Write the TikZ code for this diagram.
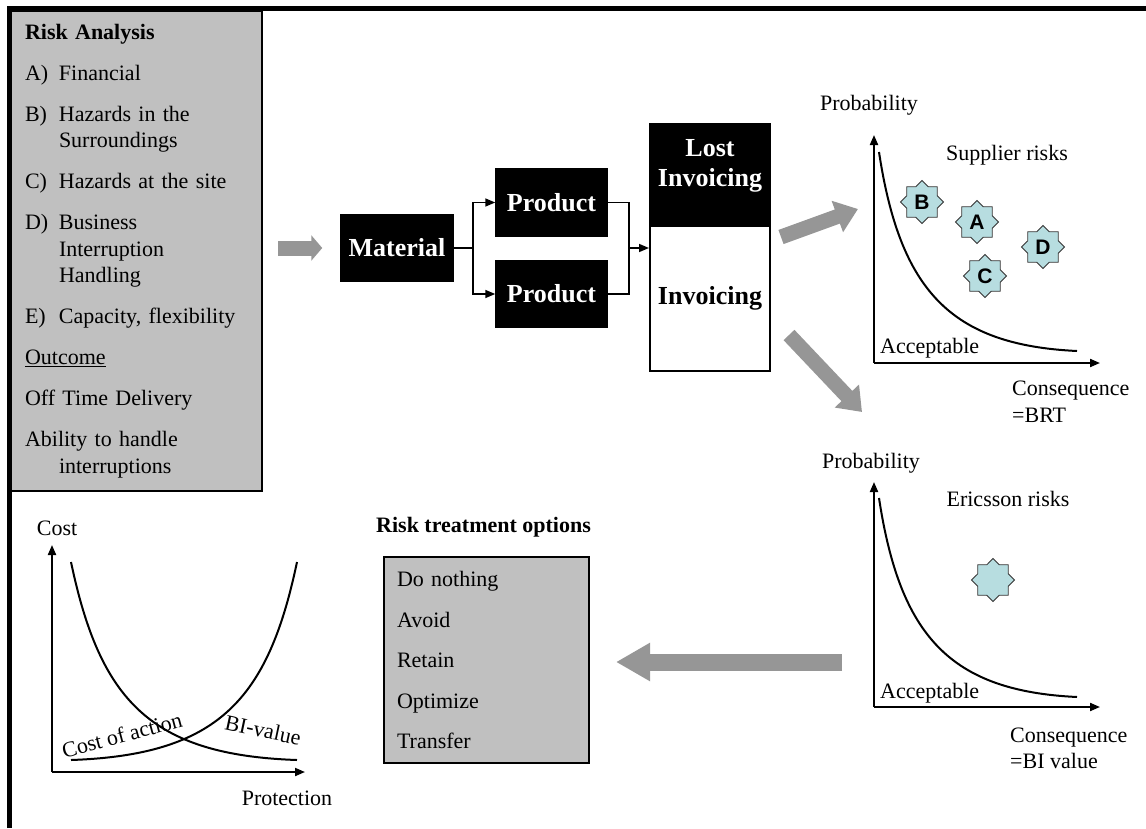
\documentclass[tikz,border=0pt]{standalone}
\usepackage{fontspec}
\setmainfont{Liberation Serif}
\newfontfamily\starfont{Liberation Sans}
\usetikzlibrary{arrows.meta,shapes.geometric,calc,positioning}
\definecolor{boxgray}{RGB}{192,192,192}
\definecolor{arrowgray}{RGB}{150,150,150}
\definecolor{starblue}{RGB}{183,221,224}
\tikzset{
  txt/.style={font=\fontsize{22}{26.5}\selectfont, inner sep=0pt},
  listbox/.style={draw, line width=2pt, fill=boxgray, font=\fontsize{22}{26.5}\selectfont, align=left, inner xsep=14pt, inner ysep=0pt},
  blackbox/.style={draw, line width=1.5pt, fill=black, text=white, font=\fontsize{26}{30}\selectfont\bfseries, align=center, inner sep=0pt},
  flow/.style={draw, line width=1.5pt, -{Triangle[length=10pt,width=8pt]}},
  fatarrow/.style={draw=arrowgray, line width=15pt, -{Triangle[length=22pt,width=32pt]}},
  axis/.style={draw, line width=2pt, -{Triangle[length=10pt,width=8pt]}},
  curve/.style={draw, line width=2pt},
  riskstar/.style={star, star points=8, star point ratio=1.31, minimum size=43pt, inner sep=0pt, draw=black!80, line width=0.8pt, fill=starblue, font=\fontsize{21}{21}\starfont\bfseries}
}
\newcommand{\riskitem}[1]{\makebox[34pt][l]{#1}}
\newcommand{\riskindent}{\hspace*{34pt}}

\begin{document}
\begin{tikzpicture}[x=1pt,y=-1pt]
  \useasboundingbox (0,0) rectangle (1146,828);

  % risk analysis list
  \node[listbox, anchor=north west, minimum width=251pt, minimum height=480pt, text width=223pt] (riskbox) at (10,10) {%
    \textbf{Risk Analysis}\\[14.5pt]
    \riskitem{A)}Financial\\[14.5pt]
    \riskitem{B)}Hazards in the\\
    \riskindent Surroundings\\[14.5pt]
    \riskitem{C)}Hazards at the site\\[14.5pt]
    \riskitem{D)}Business\\
    \riskindent Interruption\\
    \riskindent Handling\\[14.5pt]
    \riskitem{E)}Capacity, flexibility\\[14.5pt]
    \underline{Outcome}\\[14.5pt]
    Off Time Delivery\\[14.5pt]
    Ability to handle\\
    \riskindent interruptions};
  \draw[line width=5pt] (9.5,828) -- (9.5,8.5) -- (1146,8.5);

  % flow
  \node[blackbox, minimum width=112pt, minimum height=66pt] (material) at (397,248) {Material};
  \node[blackbox, minimum width=111pt, minimum height=67pt] (prodA) at (551.5,202.5) {Product};
  \node[blackbox, minimum width=111pt, minimum height=66pt] (prodB) at (551.5,294) {Product};
  \node[blackbox, minimum width=120pt, minimum height=102pt] (lost) at (710,175) {};
  \node[blackbox, draw=none, fill=none, yshift=9pt] (losttext) at (lost) {Lost\\Invoicing};
  \node[blackbox, fill=white, text=black, line width=2pt, minimum width=120pt, minimum height=145pt] (invoice) at (710,298.5) {Invoicing};
  \coordinate (split) at (473,248);
  \coordinate (merge) at (629,248);
  \draw[line width=1.5pt] (material.east) -- (split);
  \draw[flow] (split) |- (prodA.west);
  \draw[flow] (split) |- (prodB.west);
  \draw[line width=1.5pt] (prodA.east) -| (merge);
  \draw[line width=1.5pt] (prodB.east) -| (merge);
  \draw[flow] (merge) -- (merge -| invoice.west);

  % gray arrows
  \coordinate (feed) at (278,248);
  \coordinate (upA) at (781,237);
  \coordinate (upB) at (858,209);
  \coordinate (dnA) at (789,335);
  \coordinate (dnB) at (862,412);
  \coordinate (backA) at (842,662);
  \coordinate (backB) at (616,662);
  \draw[fatarrow, -{Triangle[length=11pt,width=25pt]}, shorten >=18pt] (feed) -- (material.west);
  \draw[fatarrow] (upA) -- (upB);
  \draw[fatarrow] (dnA) -- (dnB);
  \draw[fatarrow, line width=17pt, -{Triangle[length=34pt,width=36pt]}] (backA) -- (backB);

  % supplier risks
  \coordinate (supO) at (874,363);
  \draw[axis] (supO) -- ++(0,-228);
  \draw[axis] (supO) -- ++(226,0);
  \node[txt] (supprob) at (869,105) {Probability};
  \node[txt] (suptitle) at (1007,155) {Supplier risks};
  \draw[curve] (879,152) .. controls (900,290) and (950,345) .. (1077,351);
  \node[txt, anchor=base west] (supok) at (880,353) {Acceptable};
  \node[txt, align=left, anchor=west] (supcons) at (1012,401.5) {Consequence\\=BRT};
  \node[riskstar] (starB) at (922,202) {B};
  \node[riskstar] (starA) at (977,222) {A};
  \node[riskstar] (starD) at (1043,247) {D};
  \node[riskstar] (starC) at (985,276) {C};

  % ericsson risks
  \coordinate (ericO) at (874,707);
  \draw[axis] (ericO) -- ++(0,-225);
  \draw[axis] (ericO) -- ++(226,0);
  \node[txt] (ericprob) at (871,463) {Probability};
  \node[txt] (erictitle) at (1008,499) {Ericsson risks};
  \draw[curve] (879,498) .. controls (900,636) and (950,691) .. (1077,697);
  \node[txt, anchor=base west] (ericok) at (880,698) {Acceptable};
  \node[txt, align=left, anchor=west] (ericcons) at (1010,748.5) {Consequence\\=BI value};
  \node[riskstar] (starE) at (993,580) {};

  % treatment options
  \node[txt, font=\fontsize{22}{26.5}\selectfont\bfseries, anchor=base west] (treattitle) at (376,532) {Risk treatment options};
  \node[listbox, anchor=north west, minimum width=205pt, minimum height=206pt, text width=179pt, inner xsep=13pt] (treatbox) at (383,556) {%
    Do nothing\\[14pt]
    Avoid\\[14pt]
    Retain\\[14pt]
    Optimize\\[14pt]
    Transfer};

  % cost chart
  \coordinate (costO) at (52,772);
  \draw[axis] (costO) -- ++(0,-227);
  \draw[axis] (costO) -- ++(253,0);
  \node[txt] (costlab) at (57,528) {Cost};
  \node[txt] (protlab) at (287,798) {Protection};
  \draw[curve] (71,562) .. controls (100,700) and (150,755) .. (297,760);
  \draw[curve] (297,562) .. controls (268,700) and (218,755) .. (71,760);
  \node[txt, rotate=15] (actionlab) at (122,735) {Cost of action};
  \node[txt, rotate=-12] (bilab) at (263,730) {BI-value};
\end{tikzpicture}
\end{document}
